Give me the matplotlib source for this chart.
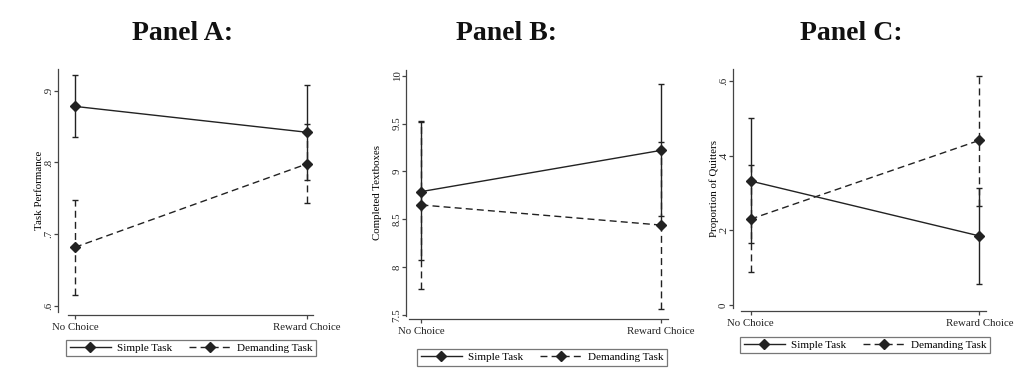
import matplotlib
matplotlib.use("Agg")
import matplotlib.pyplot as plt

plt.rcParams['font.family'] = ['Liberation Serif', 'DejaVu Serif']

categories = ["No Choice", "Reward Choice"]
series_names = ["Simple Task", "Demanding Task"]

# Panel A: Task Performance
a_simple = [0.878, 0.842]
a_simple_lo = [0.836, 0.776]
a_simple_hi = [0.921, 0.908]
a_dem = [0.682, 0.798]
a_dem_lo = [0.616, 0.744]
a_dem_hi = [0.748, 0.854]
a_ticks = [0.6, 0.7, 0.8, 0.9]
a_ticklabels = [".6", ".7", ".8", ".9"]

# Panel B: Completed Textboxes
b_simple = [8.79, 9.22]
b_simple_lo = [8.07, 8.53]
b_simple_hi = [9.52, 9.91]
b_dem = [8.65, 8.44]
b_dem_lo = [7.77, 7.56]
b_dem_hi = [9.53, 9.31]
b_ticks = [7.5, 8, 8.5, 9, 9.5, 10]
b_ticklabels = ["7.5", "8", "8.5", "9", "9.5", "10"]

# Panel C: Proportion of Quitters
c_simple = [0.332, 0.185]
c_simple_lo = [0.166, 0.055]
c_simple_hi = [0.501, 0.314]
c_dem = [0.230, 0.441]
c_dem_lo = [0.088, 0.266]
c_dem_hi = [0.374, 0.614]
c_ticks = [0.0, 0.2, 0.4, 0.6]
c_ticklabels = ["0", ".2", ".4", ".6"]

W, H = 1024, 371
fig = plt.figure(figsize=(W / 100, H / 100), dpi=100)

def rect(x0, x1, ytop, ybot):
    return [x0 / W, 1 - ybot / H, (x1 - x0) / W, (ybot - ytop) / H]

COL = '#222222'
AXCOL = '#444444'

panels = [
    dict(rect=rect(68, 313, 69, 312), ylim=(0.592, 0.93), xlim=(-0.03, 1.026),
         ticks=a_ticks, tl=a_ticklabels, ylabel="Task Performance", ylx=44,
         s=(a_simple, a_simple_lo, a_simple_hi), d=(a_dem, a_dem_lo, a_dem_hi),
         title="Panel A:", tx=183, yoff=7, leg=(191, 348)),
    dict(rect=rect(409, 668, 70, 316), ylim=(7.49, 10.06), xlim=(-0.052, 1.03),
         ticks=b_ticks, tl=b_ticklabels, ylabel="Completed Textboxes", ylx=382,
         s=(b_simple, b_simple_lo, b_simple_hi), d=(b_dem, b_dem_lo, b_dem_hi),
         title="Panel B:", tx=506, yoff=2, leg=(542, 357.5)),
    dict(rect=rect(741, 986, 69, 308), ylim=(-0.008, 0.632), xlim=(-0.042, 1.029),
         ticks=c_ticks, tl=c_ticklabels, ylabel="Proportion of Quitters", ylx=719,
         s=(c_simple, c_simple_lo, c_simple_hi), d=(c_dem, c_dem_lo, c_dem_hi),
         title="Panel C:", tx=851, yoff=6, leg=(865, 345)),
]

xs = [0, 1]
for p in panels:
    ax = fig.add_axes(p['rect'])
    # spine placement first (it resets tick properties)
    for sp in ['top', 'right']:
        ax.spines[sp].set_visible(False)
    ax.spines['left'].set_position(('outward', p['yoff']))
    ax.spines['bottom'].set_position(('outward', 2))
    for sp in ['left', 'bottom']:
        ax.spines[sp].set_color(AXCOL)
        ax.spines[sp].set_linewidth(0.9)

    handles = []
    for (vals, lo, hi), ls, name in [(p['s'], '-', series_names[0]), (p['d'], '--', series_names[1])]:
        err = [[v - l for v, l in zip(vals, lo)], [h - v for v, h in zip(vals, hi)]]
        eb = ax.errorbar(xs, vals, yerr=err, color=COL, lw=1.0, ls=ls,
                         marker='D', ms=4.8, mfc=COL, mec=COL,
                         elinewidth=1.0, capsize=2.5, capthick=1.0, label=name)
        if ls == '--':
            eb[0].set_dashes((5, 3))
            for lc in eb[2]:
                lc.set_linestyle((0, (5, 3)))
        handles.append(eb[0])
    ax.set_xlim(*p['xlim'])
    ax.set_ylim(*p['ylim'])
    ax.set_xticks(xs)
    ax.set_xticklabels(categories)
    ax.set_yticks(p['ticks'])
    ax.set_yticklabels(p['tl'])
    ax.tick_params(axis='both', length=2.8, width=0.9, color=AXCOL,
                   labelcolor='#222222', pad=3, labelsize=7.8)
    ax.tick_params(axis='y', labelrotation=90, pad=0.5)
    for lab in ax.get_yticklabels():
        lab.set_va('center')
    ax.set_ylabel(p['ylabel'], fontsize=7.8)
    x0 = p['rect'][0] * W
    wpx = p['rect'][2] * W
    ax.yaxis.set_label_coords((p['ylx'] - x0) / wpx, 0.5)

    lx, ly = p['leg']
    leg = fig.legend(handles=handles, labels=series_names, loc='center',
                     bbox_to_anchor=(lx / W, 1 - ly / H), ncol=2, fontsize=8,
                     handlelength=3.7, numpoints=1, frameon=True, fancybox=False,
                     edgecolor='#555555', borderpad=0.3, columnspacing=1.5,
                     handletextpad=0.6, borderaxespad=0)
    leg.get_frame().set_linewidth(0.9)
    fig.text(p['tx'] / W, 1 - 33 / H, p['title'], ha='center', va='center',
             fontsize=20, fontweight='bold', color='#111111')

fig.savefig("out.png", dpi=100)
